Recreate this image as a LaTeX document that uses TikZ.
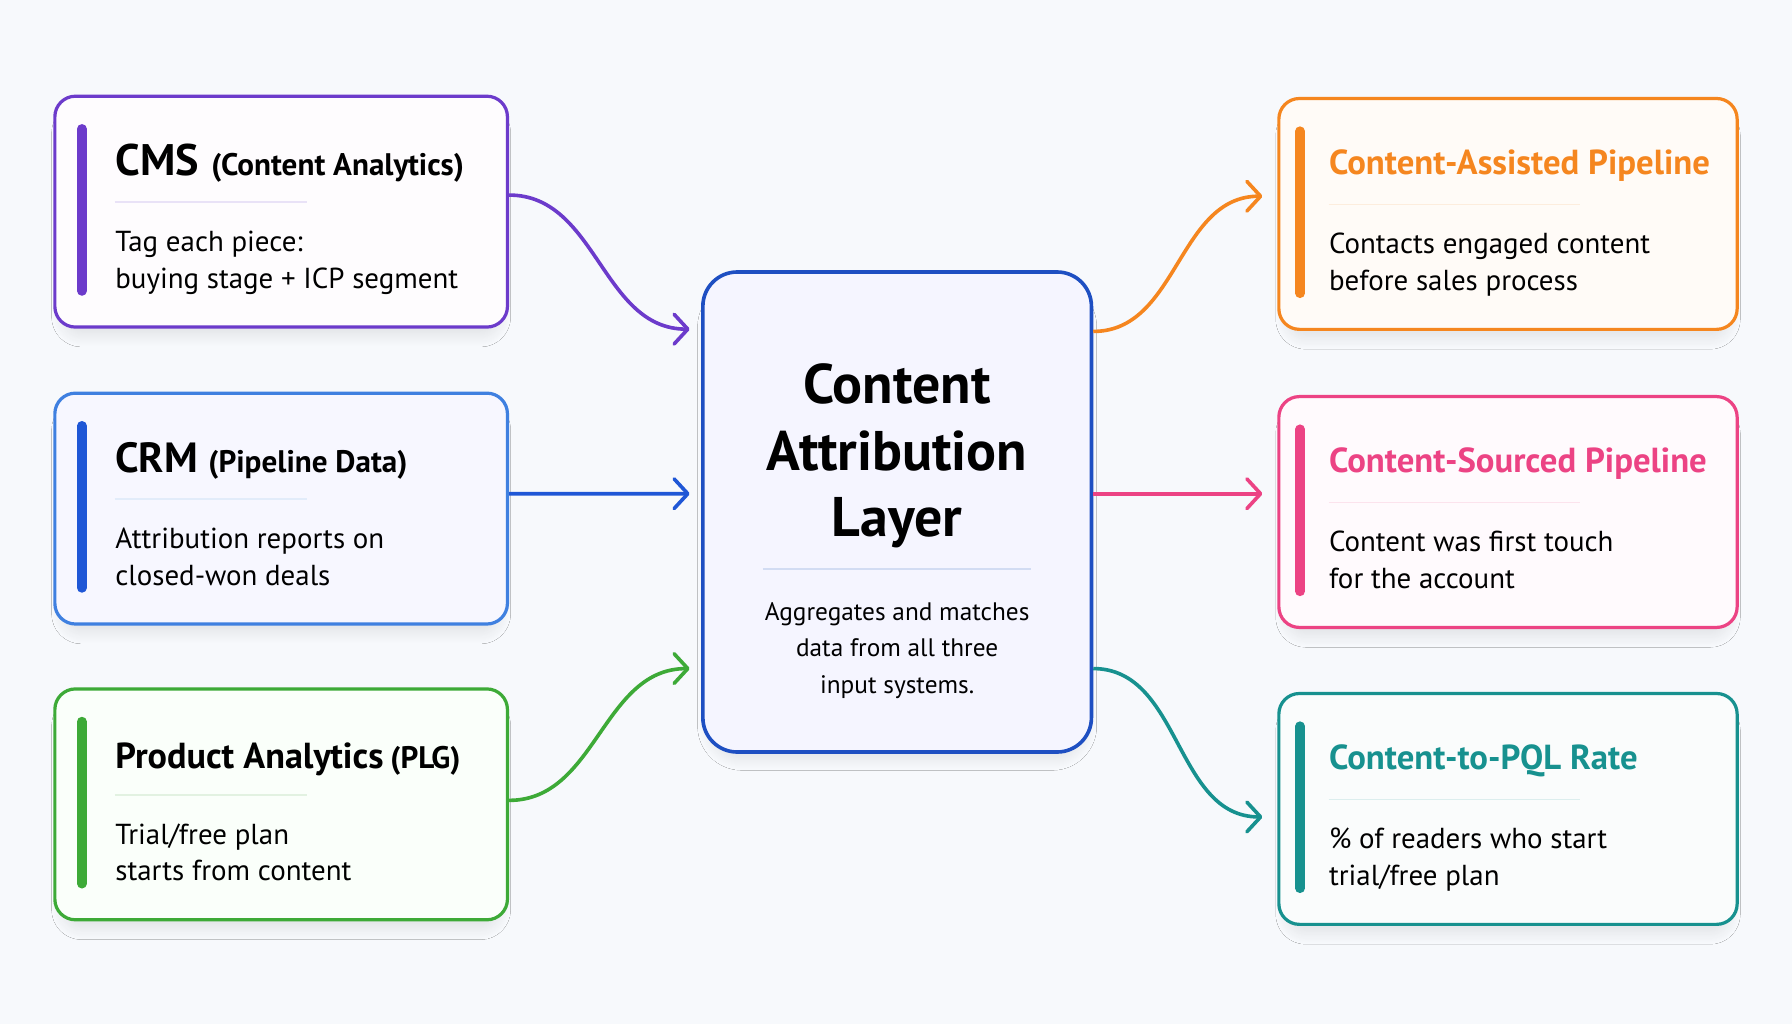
\documentclass[tikz,border=0pt]{standalone}
\usepackage{fontspec}
\setmainfont{PT Sans}
\usetikzlibrary{arrows.meta, positioning, calc, shadows.blur}

\definecolor{ink}{HTML}{161B33}
\definecolor{bgc}{HTML}{F7F9FC}
\definecolor{cmsc}{HTML}{6C3BCB}
\definecolor{crmc}{HTML}{3F80E0}
\definecolor{crmbar}{HTML}{1F57D6}
\definecolor{plgc}{HTML}{3DAA37}
\definecolor{hubc}{HTML}{1E4FC2}
\definecolor{asc}{HTML}{F5861F}
\definecolor{src}{HTML}{EC4384}
\definecolor{pqlc}{HTML}{17918F}

\begin{document}
\begin{tikzpicture}[x=0.2mm, y=-0.2mm, font=\color{ink},
        box/.style={draw, line width=1.6pt, rounded corners=3.6mm, minimum height=40.4mm,
            blur shadow={shadow xshift=0mm, shadow yshift=-2.4mm, shadow scale=0.97, shadow opacity=8, shadow blur radius=1.8mm, shadow blur steps=12}},
        inbox/.style={box, minimum width=79.2mm},
        outbox/.style={box, minimum width=80.2mm},
        hub/.style={draw=hubc, fill=blue!4!white, line width=1.8pt, rounded corners=6mm, minimum width=68mm, minimum height=84mm,
            blur shadow={shadow xshift=0mm, shadow yshift=-2.6mm, shadow scale=0.97, shadow opacity=9, shadow blur radius=2mm, shadow blur steps=12}},
        bar/.style={line width=4.8pt, line cap=round},
        sep/.style={line width=0.8pt},
        head/.style={inner sep=0pt, anchor=base west, font=\bfseries\fontsize{15.5}{18}\selectfont},
        desc/.style={inner sep=0pt, anchor=north west, align=left, font=\fontsize{14.4}{18.2}\selectfont},
        link/.style={line width=1.8pt, -{Straight Barb[length=2.4mm, width=5.2mm, line cap=round, line join=round]}}
    ]
    \fill[bgc] (0,0) rectangle (1568,896);

    \node[hub] (layer) at (785,448) {};
    \node[inbox, draw=crmc, fill=blue!3!white, left=33.6mm of layer, yshift=0.6mm] (crm) {};
    \node[inbox, draw=cmsc, fill=violet!1!white, above=11mm of crm] (cms) {};
    \node[inbox, draw=plgc, fill=green!2!white, below=10.8mm of crm] (plg) {};
    \node[outbox, draw=src, fill=magenta!2!white, right=32.2mm of layer] (sourced) {};
    \node[outbox, draw=asc, fill=orange!3!white, above=11.2mm of sourced] (assist) {};
    \node[outbox, draw=pqlc, fill=teal!2!white, below=11mm of sourced] (pql) {};

    \draw[bar, cmsc] ([xshift=5mm, yshift=-6mm]cms.north west) -- ([xshift=5mm, yshift=6.6mm]cms.south west);
    \draw[bar, crmbar] ([xshift=5mm, yshift=-6mm]crm.north west) -- ([xshift=5mm, yshift=6.6mm]crm.south west);
    \draw[bar, plgc] ([xshift=5mm, yshift=-6mm]plg.north west) -- ([xshift=5mm, yshift=6.6mm]plg.south west);
    \draw[bar, asc] ([xshift=4mm, yshift=-6mm]assist.north west) -- ([xshift=4mm, yshift=6.6mm]assist.south west);
    \draw[bar, src] ([xshift=4mm, yshift=-6mm]sourced.north west) -- ([xshift=4mm, yshift=6.6mm]sourced.south west);
    \draw[bar, pqlc] ([xshift=4mm, yshift=-6mm]pql.north west) -- ([xshift=4mm, yshift=6.6mm]pql.south west);

    \node[head] (cmsh) at ([xshift=10.8mm, yshift=-14.2mm]cms.north west) {{\fontsize{22}{26}\selectfont CMS}\hspace{2.2mm}(Content Analytics)};
    \node[head] (crmh) at ([xshift=10.8mm, yshift=-14.2mm]crm.north west) {{\fontsize{21}{25}\selectfont CRM}\hspace{1.8mm}(Pipeline Data)};
    \node[head] (plgh) at ([xshift=10.8mm, yshift=-14.2mm]plg.north west) {{\fontsize{18}{22}\selectfont Product Analytics}\hspace{1.2mm}(PLG)};
    \node[head, asc, font=\bfseries\fontsize{17.3}{20}\selectfont] (assisth) at ([xshift=9mm, yshift=-13.6mm]assist.north west) {Content-Assisted Pipeline};
    \node[head, src, font=\bfseries\fontsize{17.3}{20}\selectfont] (sourcedh) at ([xshift=9mm, yshift=-13.6mm]sourced.north west) {Content-Sourced Pipeline};
    \node[head, pqlc, font=\bfseries\fontsize{17.3}{20}\selectfont] (pqlh) at ([xshift=9mm, yshift=-13.6mm]pql.north west) {Content-to-PQL Rate};

    \draw[sep, cmsc!15] ([xshift=10.8mm, yshift=-18.8mm]cms.north west) -- ++(33.6mm,0);
    \draw[sep, crmc!15] ([xshift=10.8mm, yshift=-18.8mm]crm.north west) -- ++(33.6mm,0);
    \draw[sep, plgc!15] ([xshift=10.8mm, yshift=-18.8mm]plg.north west) -- ++(33.6mm,0);
    \draw[sep, asc!15] ([xshift=9mm, yshift=-18.8mm]assist.north west) -- ++(44mm,0);
    \draw[sep, src!15] ([xshift=9mm, yshift=-18.8mm]sourced.north west) -- ++(44mm,0);
    \draw[sep, pqlc!15] ([xshift=9mm, yshift=-18.8mm]pql.north west) -- ++(44mm,0);

    \node[desc] (cmsd) at ([xshift=10.8mm, yshift=-23.8mm]cms.north west) {Tag each piece:\\buying stage + ICP segment};
    \node[desc] (crmd) at ([xshift=10.8mm, yshift=-23.8mm]crm.north west) {Attribution reports on\\closed-won deals};
    \node[desc] (plgd) at ([xshift=10.8mm, yshift=-23.8mm]plg.north west) {Trial/free plan\\starts from content};
    \node[desc] (assistd) at ([xshift=9mm, yshift=-23.8mm]assist.north west) {Contacts engaged content\\before sales process};
    \node[desc] (sourcedd) at ([xshift=9mm, yshift=-23.8mm]sourced.north west) {Content was first touch\\for the account};
    \node[desc] (pqld) at ([xshift=9mm, yshift=-23.8mm]pql.north west) {\% of readers who start\\trial/free plan};

    \node[align=center, font=\bfseries\fontsize{27.8}{33}\selectfont] (hubh) at ([yshift=9.8mm]layer.center) {Content\\Attribution\\Layer};
    \draw[sep, hubc!20] ([xshift=-23.5mm, yshift=-10mm]layer.center) -- ([xshift=23.5mm, yshift=-10mm]layer.center);
    \node[align=center, font=\fontsize{12.6}{18.2}\selectfont] (hubd) at ([yshift=-24.2mm]layer.center) {Aggregates and matches\\data from all three\\input systems.};

    \draw[link, cmsc] ([yshift=2.9mm]cms.east) to[out=0, in=180] ([xshift=-2mm, yshift=32mm]layer.west);
    \draw[link, crmbar] ([yshift=2.6mm]crm.east) -- ([xshift=-2mm, yshift=3.2mm]layer.west);
    \draw[link, plgc] ([yshift=0.7mm]plg.east) to[out=0, in=180] ([xshift=-2mm, yshift=-27.4mm]layer.west);
    \draw[link, asc] ([yshift=31.6mm]layer.east) to[out=0, in=180] ([xshift=-2.6mm, yshift=3.1mm]assist.west);
    \draw[link, src] ([yshift=3.2mm]layer.east) -- ([xshift=-2.6mm, yshift=3.2mm]sourced.west);
    \draw[link, pqlc] ([yshift=-27.4mm]layer.east) to[out=0, in=180] ([xshift=-2.6mm, yshift=-1.4mm]pql.west);
\end{tikzpicture}
\end{document}
